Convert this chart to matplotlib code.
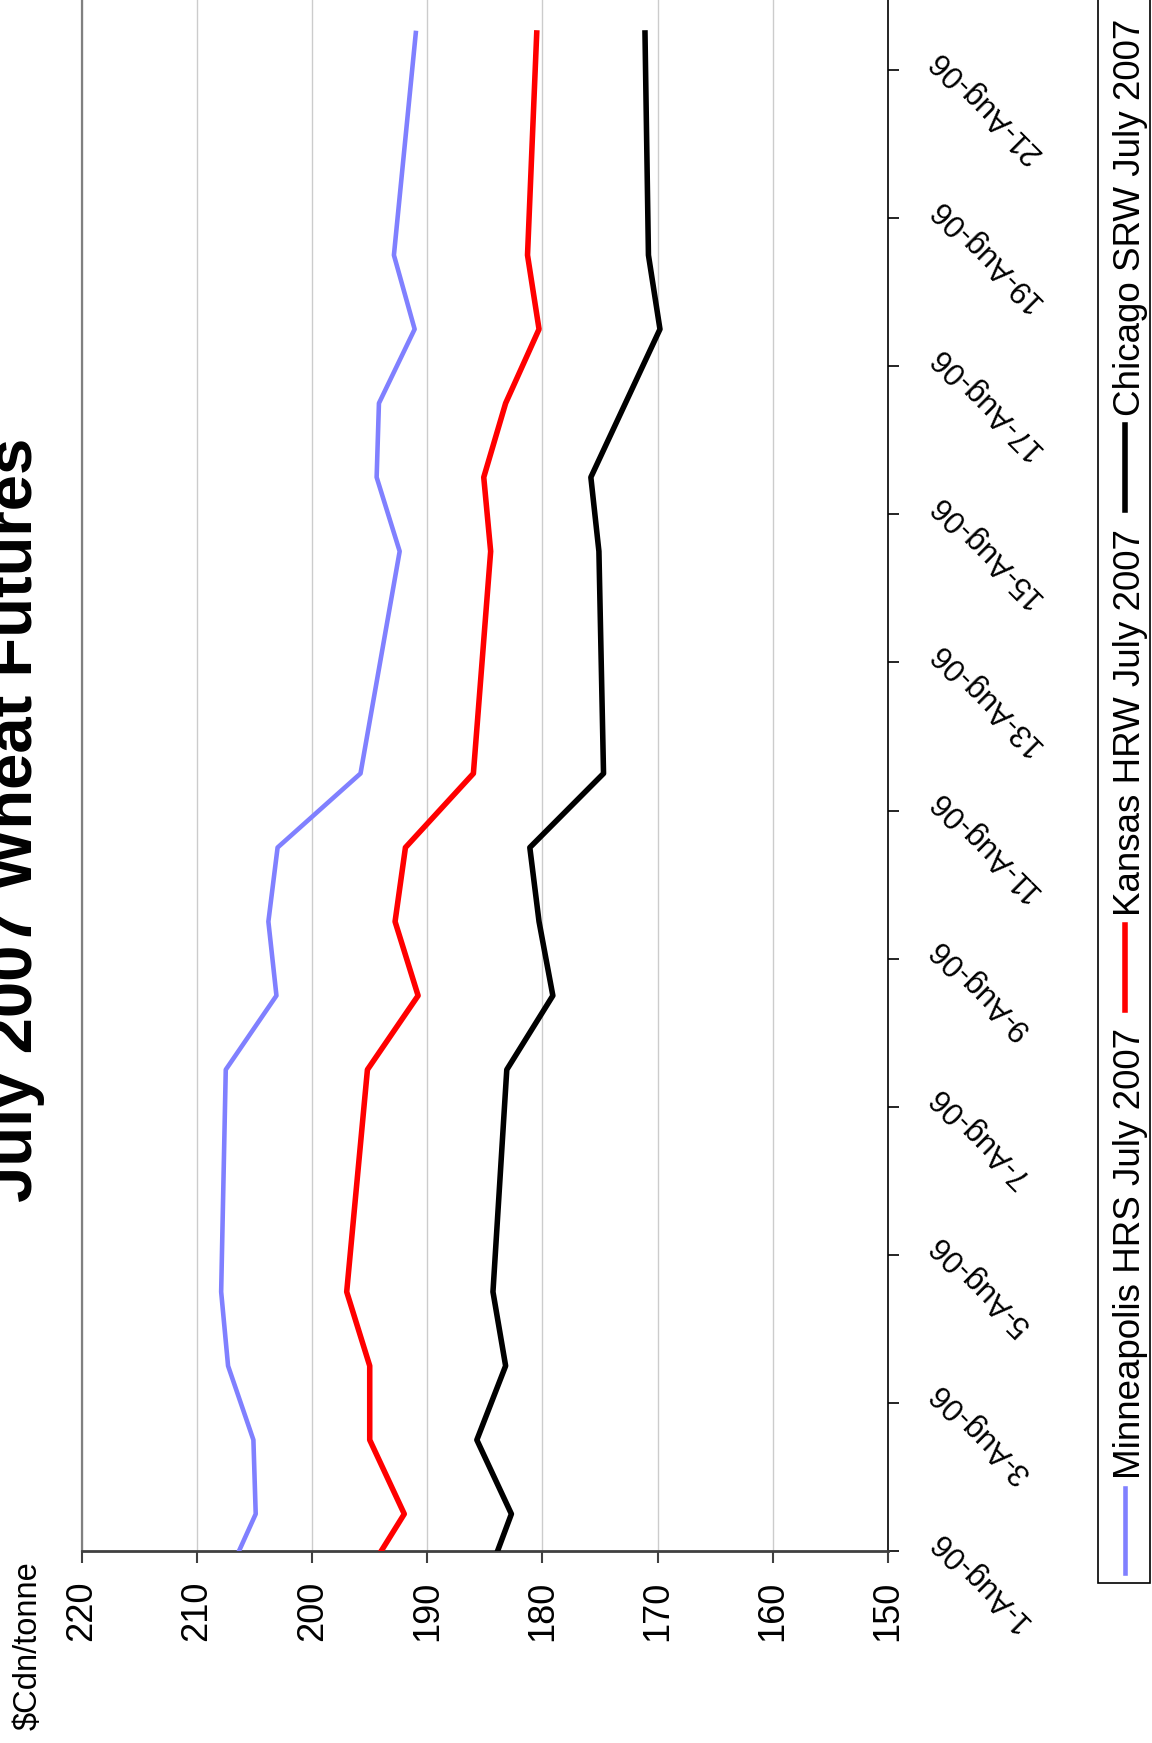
import matplotlib
matplotlib.use("Agg")
import matplotlib.pyplot as plt
import matplotlib.dates as mdates
from matplotlib.transforms import ScaledTranslation, blended_transform_factory
from matplotlib.lines import Line2D
from matplotlib.patches import Rectangle
import pandas as pd
import datetime as dt

plt.rcParams['font.family'] = ['Liberation Sans', 'DejaVu Sans']

# ---------------- data ----------------
title = "July 2007 Wheat Futures"
unit_label = "$Cdn/tonne"
dates = ["31-Jul-06", "1-Aug-06", "2-Aug-06", "3-Aug-06", "4-Aug-06",
         "7-Aug-06", "8-Aug-06", "9-Aug-06", "10-Aug-06", "11-Aug-06",
         "14-Aug-06", "15-Aug-06", "16-Aug-06", "17-Aug-06", "18-Aug-06",
         "21-Aug-06"]
series_names = ["Minneapolis HRS July 2007", "Kansas HRW July 2007",
                "Chicago SRW July 2007"]
minneapolis = [207.8, 204.9, 205.1, 207.3, 207.9, 207.5, 203.1, 203.8, 203.0,
               195.8, 192.4, 194.4, 194.2, 191.1, 192.9, 191.0]
kansas = [196.0, 192.0, 195.0, 195.0, 197.0, 195.2, 190.8, 192.8, 191.9,
          186.0, 184.5, 185.1, 183.2, 180.3, 181.3, 180.5]
chicago = [185.1, 182.7, 185.7, 183.2, 184.3, 183.1, 179.1, 180.3, 181.1,
           174.7, 175.1, 175.8, 172.8, 169.8, 170.8, 171.1]
value_ticks = [220, 210, 200, 190, 180, 170, 160, 150]
date_tick_labels = ["1-Aug-06", "3-Aug-06", "5-Aug-06", "7-Aug-06", "9-Aug-06",
                    "11-Aug-06", "13-Aug-06", "15-Aug-06", "17-Aug-06",
                    "19-Aug-06", "21-Aug-06"]

colors = ["#8080ff", "#ff0000", "#000000"]
widths = [3.3, 4.0, 4.0]

# ---------------- figure ----------------
W, H = 1152, 1743
fig = plt.figure(figsize=(W / 100, H / 100), dpi=100)


def fx(x):
    return x / W


def fy(y):
    return 1 - y / H


day_px = 74.05
ax_left, ax_right, ax_bottom = 81.8, 888.0, 1551.0
n_days = 22
ax = fig.add_axes([fx(ax_left), fy(ax_bottom), fx(ax_right - ax_left),
                   n_days * day_px / H])

t = pd.to_datetime(dates, format="%d-%b-%y") + pd.Timedelta(hours=12)
for vals, c, lw in zip([minneapolis, kansas, chicago], colors, widths):
    ax.plot(vals, t, color=c, lw=lw, solid_joinstyle='round', zorder=3)

ax.set_xlim(220, 150)
ax.set_ylim(dt.datetime(2006, 8, 1), dt.datetime(2006, 8, 1) + dt.timedelta(days=n_days))

# value axis (bottom)
ax.set_xticks(value_ticks)
ax.set_xticklabels([str(v) for v in value_ticks])
ax.tick_params(axis='x', direction='out', length=8.6, width=1.5, color='#404040',
               pad=12.5, labelsize=26, labelrotation=90)
ax.xaxis.grid(True, color='#cccccc', lw=1.0)
ax.set_axisbelow(True)

# date axis (right)
tick_dates = pd.to_datetime(date_tick_labels, format="%d-%b-%y")
ax.yaxis.set_ticks_position('right')
ax.set_yticks(mdates.date2num(tick_dates))
ax.tick_params(axis='y', direction='out', length=7.9, width=1.2, color='black',
               labelright=False, labelleft=False)
trans = blended_transform_factory(ax.transAxes, ax.transData) + \
    ScaledTranslation(0.46, 0.16, fig.dpi_scale_trans)
for d, lab in zip(tick_dates, date_tick_labels):
    ax.text(1.0, mdates.date2num(d), lab, transform=trans, rotation=135,
            rotation_mode='anchor', ha='right', va='center', fontsize=22.5,
            clip_on=False)

ax.spines['left'].set_color('#808080')
ax.spines['left'].set_linewidth(1.6)
ax.spines['bottom'].set_color('#404040')
ax.spines['bottom'].set_linewidth(2.0)
ax.spines['right'].set_color('black')
ax.spines['right'].set_linewidth(1.2)
ax.spines['top'].set_visible(False)

# title and unit label (rotated)
fig.text(fx(32), fy(820), title, rotation=90, rotation_mode='anchor',
         ha='center', va='baseline', fontsize=47, fontweight='bold')
fig.text(fx(37), fy(1730), unit_label, rotation=90, rotation_mode='anchor',
         ha='left', va='baseline', fontsize=23.5)

# legend (rotated, drawn manually)
fig.add_artist(Rectangle((fx(1098), fy(1583)), fx(1150 - 1098), (1583 + 20) / H,
                         transform=fig.transFigure, facecolor='white',
                         edgecolor='black', lw=1.2, zorder=5))
sample_spans = [(1488, 1573), (925, 1010), (425, 510)]
text_starts = [1479, 916, 416]
for name, c, lw, (y0, y1), ts in zip(series_names, colors, widths,
                                     sample_spans, text_starts):
    fig.add_artist(Line2D([fx(1125), fx(1125)], [fy(y0), fy(y1)],
                          transform=fig.transFigure, color=c, lw=lw, zorder=6))
    fig.text(fx(1140), fy(ts), name, rotation=90, rotation_mode='anchor',
             ha='left', va='baseline', fontsize=26.5, zorder=6)

fig.savefig("out.png", dpi=100)
